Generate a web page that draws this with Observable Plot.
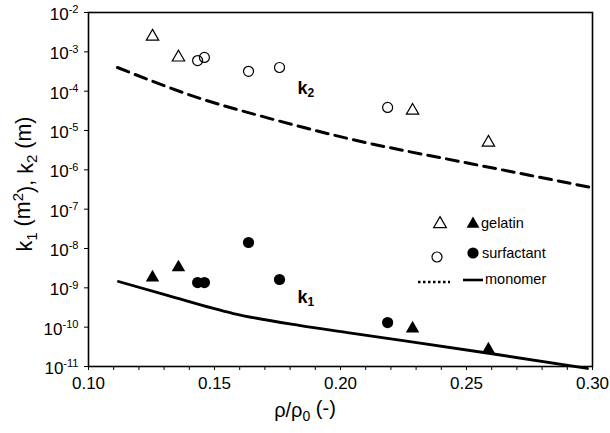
<!DOCTYPE html>
<html>
<head>
<meta charset="utf-8">
<script src="https://cdn.jsdelivr.net/npm/d3@7"></script>
<script src="https://cdn.jsdelivr.net/npm/@observablehq/plot@0.6"></script>
<style>
  html, body { margin: 0; padding: 0; background: #fff; }
  #chart { position: relative; width: 610px; height: 433px; }
  svg { font-family: "Liberation Sans", Arial, sans-serif; }
</style>
</head>
<body>
<div id="chart"></div>
<script>
// ---- data ----
const gelatinX  = [0.1254, 0.1357, 0.2286, 0.2587];
const gelatinK2 = [2.45e-3, 7.2e-4, 3.2e-5, 4.95e-6];
const gelatinK1 = [1.83e-9, 3.3e-9, 9.2e-11, 2.7e-11];

const surfX  = [0.1433, 0.1460, 0.1635, 0.1758, 0.2187];
const surfK2 = [6.0e-4, 7.2e-4, 3.2e-4, 4.0e-4, 3.85e-5];
const surfK1 = [1.36e-9, 1.36e-9, 1.42e-8, 1.63e-9, 1.31e-10];

const monoK2X = [0.1115, 0.1444, 0.171, 0.2028, 0.2528, 0.2754, 0.30];
const monoK2  = [4.0e-4, 6.5e-5, 2.1e-5, 6.3e-6, 1.39e-6, 7.2e-7, 3.5e-7];

const monoK1X = [0.1119, 0.1313, 0.1575, 0.1841, 0.2028, 0.2595, 0.298];
const monoK1  = [1.45e-9, 6.4e-10, 2.22e-10, 1.10e-10, 7.3e-11, 2.14e-11, 8.9e-12];

const xTickLabels = [0.10, 0.15, 0.20, 0.25, 0.30];
const xMinorTicks = d3.range(10, 31).map(d => d / 100);
const yTicks = [1e-11, 1e-10, 1e-9, 1e-8, 1e-7, 1e-6, 1e-5, 1e-4, 1e-3, 1e-2];

const annText = ["k", "k"];
const annSub  = ["2", "1"];
const annX    = [0.1829, 0.1829];
const annY    = [1.17e-4, 5.7e-10];

const legendItems = ["gelatin", "surfactant", "monomer"];

const toRows = (xs, ys) => xs.map((x, i) => ({x, y: ys[i]}));

const font = '"Liberation Sans", Arial, sans-serif';

const chart = Plot.plot({
  width: 610,
  height: 433,
  marginLeft: 88,
  marginRight: 18,
  marginTop: 12,
  marginBottom: 67,
  style: {fontFamily: font, background: "white", color: "black"},
  x: {domain: [0.10, 0.30]},
  y: {type: "log", domain: [1e-11, 1e-2]},
  marks: [
    Plot.axisX({ticks: xMinorTicks, tickSize: 4, tickFormat: () => "", label: null, strokeWidth: 1}),
    Plot.axisX({ticks: xTickLabels, tickSize: 0, tickPadding: 10, tickFormat: d3.format(".2f"), fontSize: 17, label: null}),
    Plot.axisY({ticks: yTicks, tickSize: 4, tickPadding: 6, tickFormat: d => String(Math.round(Math.log10(d))), fontSize: 17, label: null}),
    Plot.line(toRows(monoK2X, monoK2), {x: "x", y: "y", stroke: "black", strokeWidth: 3, strokeDasharray: "12,7", curve: "monotone-x"}),
    Plot.line(toRows(monoK1X, monoK1), {x: "x", y: "y", stroke: "black", strokeWidth: 2.8, curve: "monotone-x"}),
    Plot.dot(toRows(gelatinX, gelatinK2), {x: "x", y: "y", symbol: "triangle", r: 4.6, fill: "white", stroke: "black", strokeWidth: 1.2}),
    Plot.dot(toRows(surfX, surfK2), {x: "x", y: "y", symbol: "circle", r: 5, fill: "none", stroke: "black", strokeWidth: 1.2}),
    Plot.dot(toRows(gelatinX, gelatinK1), {x: "x", y: "y", symbol: "triangle", r: 5, fill: "black", stroke: "none"}),
    Plot.dot(toRows(surfX, surfK1), {x: "x", y: "y", symbol: "circle", r: 5.6, fill: "black", stroke: "none"}),
    Plot.text(annText, {x: annX, y: annY, text: d => d, textAnchor: "start", fontSize: 18, fontWeight: "bold"}),
    Plot.text(annSub, {x: annX, y: annY, text: d => d, textAnchor: "start", dx: 10, dy: 5, fontSize: 12, fontWeight: "bold"}),
    Plot.frame({stroke: "black", strokeWidth: 1.6})
  ]
});

document.getElementById("chart").appendChild(chart);

const svg = d3.select(chart);

// superscript exponents on the y tick labels
svg.selectAll('g[aria-label="y-axis tick label"] text').each(function() {
  const e = this.textContent;
  const t = d3.select(this);
  t.text(null);
  t.append("tspan").attr("dy", "0.12em").text("10");
  t.append("tspan").attr("dy", "-0.6em").attr("font-size", "0.65em").text(e);
});

// y axis title
const yl = svg.append("text")
  .attr("transform", "translate(32,184) rotate(-90)")
  .attr("text-anchor", "middle")
  .attr("font-size", 21.5)
  .attr("fill", "black");
yl.append("tspan").text("k");
yl.append("tspan").attr("dy", "0.3em").attr("font-size", "0.7em").text("1");
yl.append("tspan").attr("dy", "-0.3em").text(" (m");
yl.append("tspan").attr("dy", "-0.45em").attr("font-size", "0.7em").text("2");
yl.append("tspan").attr("dy", "0.45em").text("), k");
yl.append("tspan").attr("dy", "0.3em").attr("font-size", "0.7em").text("2");
yl.append("tspan").attr("dy", "-0.3em").text(" (m)");

// x axis title
const xl = svg.append("text")
  .attr("x", 305).attr("y", 417)
  .attr("text-anchor", "middle")
  .attr("font-size", 20)
  .attr("fill", "black");
xl.append("tspan").text("ρ/ρ");
xl.append("tspan").attr("dy", "0.3em").attr("font-size", "0.7em").text("0");
xl.append("tspan").attr("dy", "-0.3em").text(" (-)");

// legend
const lg = svg.append("g").attr("fill", "black").attr("font-size", 14.5).attr("text-anchor", "start");
const tri = d3.symbol(d3.symbolTriangle, 70)();
const triF = d3.symbol(d3.symbolTriangle, 72)();
lg.append("path").attr("d", tri).attr("transform", "translate(440,224)").attr("fill", "white").attr("stroke", "black").attr("stroke-width", 1.2);
lg.append("path").attr("d", triF).attr("transform", "translate(473,224)").attr("fill", "black");
lg.append("text").attr("x", 481).attr("y", 228).text(legendItems[0]);
lg.append("circle").attr("cx", 437).attr("cy", 257).attr("r", 5).attr("fill", "none").attr("stroke", "black").attr("stroke-width", 1.2);
lg.append("circle").attr("cx", 473).attr("cy", 253).attr("r", 5.6).attr("fill", "black");
lg.append("text").attr("x", 482).attr("y", 258).text(legendItems[1]);
lg.append("line").attr("x1", 418).attr("x2", 450).attr("y1", 282).attr("y2", 282).attr("stroke", "black").attr("stroke-width", 2.6).attr("stroke-dasharray", "2.5,2.5");
lg.append("line").attr("x1", 463).attr("x2", 483).attr("y1", 280).attr("y2", 280).attr("stroke", "black").attr("stroke-width", 2.6);
lg.append("text").attr("x", 485).attr("y", 284).text(legendItems[2]);
</script>
</body>
</html>
